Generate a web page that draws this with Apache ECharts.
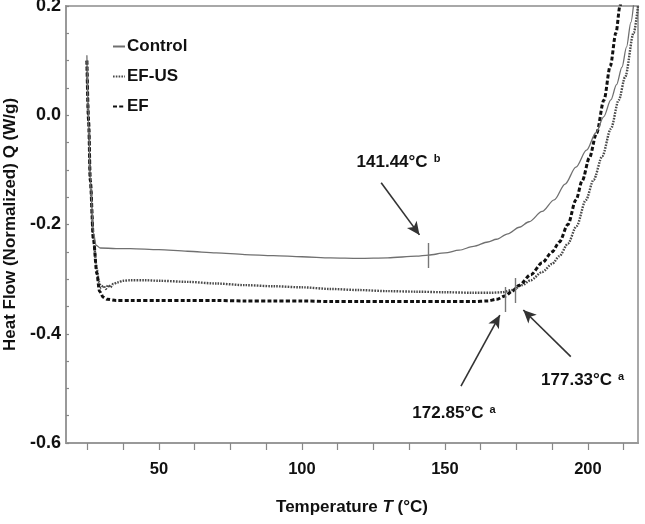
<!DOCTYPE html>
<html>
<head>
<meta charset="utf-8">
<script src="https://cdn.jsdelivr.net/npm/echarts@6/dist/echarts.min.js"></script>
<style>
html,body{margin:0;padding:0;background:#fff;}
#chart{width:645px;height:524px;}
</style>
</head>
<body>
<div id="chart"></div>
<script>
// ---- data ----
const controlT = [24.8, 25.4, 26.0, 27.1, 28.0, 29.5, 35, 40, 50, 60, 70, 80, 90, 100, 110, 120, 130, 140, 144.2, 150, 155, 160, 165, 168, 172, 176, 179.4, 184, 188.2, 192, 195.8, 199.5, 202.8, 205.5, 208, 210, 211.9, 213.5, 215, 216];
const controlQ = [0.11, -0.01, -0.12, -0.215, -0.238, -0.243, -0.244, -0.244, -0.246, -0.249, -0.252, -0.255, -0.257, -0.259, -0.261, -0.262, -0.261, -0.258, -0.256, -0.252, -0.247, -0.24, -0.232, -0.227, -0.217, -0.205, -0.195, -0.176, -0.155, -0.126, -0.095, -0.064, -0.032, -0.003, 0.028, 0.056, 0.088, 0.125, 0.17, 0.205];

const efusT = [24.8, 25.4, 26.0, 27.1, 28.3, 29.0, 29.8, 30.6, 31.4, 32.2, 33.0, 34.0, 35.5, 37.5, 40, 45, 50, 60, 70, 80, 90, 100, 110, 120, 130, 140, 150, 160, 166, 170, 173.5, 177, 180, 184, 187.5, 190, 193, 196, 199.3, 202, 205, 208, 210.8, 213, 216, 217.5];
const efusQ = [0.10, -0.01, -0.12, -0.228, -0.283, -0.305, -0.316, -0.312, -0.318, -0.311, -0.315, -0.309, -0.306, -0.303, -0.302, -0.302, -0.303, -0.305, -0.308, -0.311, -0.313, -0.315, -0.318, -0.32, -0.322, -0.323, -0.324, -0.325, -0.325, -0.324, -0.32, -0.311, -0.302, -0.287, -0.272, -0.258, -0.235, -0.203, -0.155, -0.118, -0.075, -0.025, 0.028, 0.07, 0.151, 0.2];

const efT = [24.8, 25.4, 26.0, 27.1, 28.3, 29.2, 30.5, 32, 35, 40, 50, 60, 70, 80, 90, 100, 110, 120, 130, 140, 150, 160, 165, 168, 171, 173.5, 176, 180, 184, 187.5, 190, 193, 195.8, 198, 200.5, 203, 205.6, 207.8, 209.8, 211.2, 211.7];
const efQ = [0.10, -0.01, -0.12, -0.228, -0.29, -0.322, -0.333, -0.337, -0.339, -0.339, -0.339, -0.339, -0.339, -0.34, -0.34, -0.34, -0.341, -0.341, -0.341, -0.341, -0.341, -0.341, -0.34, -0.337, -0.331, -0.322, -0.311, -0.292, -0.27, -0.25, -0.232, -0.2, -0.155, -0.12, -0.078, -0.033, 0.028, 0.09, 0.151, 0.2, 0.215];

const seriesNames = ['Control', 'EF-US', 'EF'];
const xLabelValues = [50, 100, 150, 200];
const xTickValues = [25, 37.5, 50, 62.5, 75, 87.5, 100, 112.5, 125, 137.5, 150, 162.5, 175, 187.5, 200, 212.5];
const yTickValues = [-0.6, -0.55, -0.5, -0.45, -0.4, -0.35, -0.3, -0.25, -0.2, -0.15, -0.1, -0.05, 0, 0.05, 0.1, 0.15, 0.2];

// annotations in data coordinates
const arrowFrom = [[127.7, -0.1235], [155.6, -0.4957], [194.0, -0.442]];
const arrowTo   = [[141.1, -0.219], [169.2, -0.3657], [177.4, -0.3565]];
const markT     = [144.2, 171.1, 174.6];
const markQlo   = [-0.2796, -0.3602, -0.3437];
const markQhi   = [-0.2339, -0.3144, -0.298];
const noteText  = ['141.44°C', '172.85°C', '177.33°C'];
const noteSup   = ['b', 'a', 'a'];
const notePos   = [[119.1, -0.0856], [138.6, -0.545], [183.6, -0.4847]];

// ---- build ----
const zip = (a, b) => a.map((v, i) => [v, b[i]]);
const FONT = 'Liberation Sans, Arial, sans-serif';

const markLines = [];
arrowFrom.forEach((p, i) => {
  markLines.push([
    { coord: p, symbol: 'none' },
    { coord: arrowTo[i], symbol: 'arrow', symbolSize: [9, 13],
      lineStyle: { color: '#333', width: 1.6, type: 'solid' } }
  ]);
});
markT.forEach((t, i) => {
  markLines.push([
    { coord: [t, markQlo[i]], symbol: 'none' },
    { coord: [t, markQhi[i]], symbol: 'none',
      lineStyle: { color: '#777', width: 1.4, type: 'solid' } }
  ]);
});

const markPoints = notePos.map((p, i) => ({
  coord: p,
  label: { formatter: '{m|' + noteText[i] + '}{s|' + noteSup[i] + '}' }
}));

const chart = echarts.init(document.getElementById('chart'), null, { renderer: 'canvas' });

chart.setOption({
  animation: false,
  backgroundColor: '#fff',
  grid: {
    left: 66, right: 7, top: 6, bottom: 81,
    containLabel: false,
    outerBoundsMode: 'none',
    show: true, borderColor: '#a8a8a8', borderWidth: 2, backgroundColor: 'transparent'
  },
  legend: {
    orient: 'vertical',
    left: 107, top: 33,
    itemWidth: 12, itemHeight: 8, itemGap: 13,
    itemStyle: { opacity: 0 },
    textStyle: { fontFamily: FONT, fontWeight: 'bold', fontSize: 17, color: '#111', padding: [0, 0, 0, -3] },
    data: seriesNames
  },
  xAxis: {
    type: 'value',
    min: 17.5, max: 217.5,
    name: '{n|Temperature }{i|T}{n| (°C)}',
    nameLocation: 'middle',
    nameGap: 56,
    nameTextStyle: {
      rich: {
        n: { fontFamily: FONT, fontWeight: 'bold', fontSize: 17, color: '#111' },
        i: { fontFamily: FONT, fontWeight: 'bold', fontStyle: 'italic', fontSize: 17, color: '#111' }
      }
    },
    axisLine: { show: true, onZero: false, lineStyle: { color: '#999', width: 2 } },
    axisTick: { show: true, inside: false, length: 7, customValues: xTickValues, lineStyle: { color: '#888', width: 1.2 } },
    axisLabel: { customValues: xLabelValues, margin: 18, fontFamily: FONT, fontWeight: 'bold', fontSize: 16.5, color: '#111' },
    splitLine: { show: false }
  },
  yAxis: {
    type: 'value',
    min: -0.6, max: 0.2, interval: 0.2,
    name: 'Heat Flow (Normalized) Q (W/g)',
    nameLocation: 'middle',
    nameGap: 45,
    nameTextStyle: { fontFamily: FONT, fontWeight: 'bold', fontSize: 17, color: '#111' },
    axisLine: { show: true, onZero: false, lineStyle: { color: '#999', width: 2 } },
    axisTick: { show: true, inside: true, length: 3, customValues: yTickValues, lineStyle: { color: '#888', width: 1.2 } },
    axisLabel: {
      margin: 5, fontFamily: FONT, fontWeight: 'bold', fontSize: 18, color: '#111',
      formatter: v => (Math.abs(v) < 1e-9 ? 0 : v).toFixed(1)
    },
    splitLine: { show: false }
  },
  series: [
    {
      name: seriesNames[0], type: 'line', data: zip(controlT, controlQ),
      showSymbol: false, symbol: 'none', smooth: 0.3, smoothMonotone: 'x',
      lineStyle: { color: '#707070', width: 1.3, type: 'solid' },
      itemStyle: { color: '#707070' },
      z: 3,
      markLine: {
        silent: true, animation: false,
        label: { show: false },
        emphasis: { disabled: true },
        data: markLines
      },
      markPoint: {
        silent: true, animation: false,
        symbol: 'circle', symbolSize: 0,
        label: {
          show: true, position: 'right', distance: 0,
          rich: {
            m: { fontFamily: FONT, fontWeight: 'bold', fontSize: 17, color: '#111' },
            s: { fontFamily: FONT, fontWeight: 'bold', fontSize: 11, color: '#111', verticalAlign: 'top', padding: [0, 0, 0, 6] }
          }
        },
        data: markPoints
      }
    },
    {
      name: seriesNames[1], type: 'line', data: zip(efusT, efusQ),
      showSymbol: false, symbol: 'none', smooth: 0.3, smoothMonotone: 'x',
      lineStyle: { color: '#4a4a4a', width: 2.4, type: [1.6, 1.2] },
      itemStyle: { color: '#4a4a4a' },
      z: 2
    },
    {
      name: seriesNames[2], type: 'line', data: zip(efT, efQ),
      showSymbol: false, symbol: 'none', smooth: 0.3, smoothMonotone: 'x',
      lineStyle: { color: '#111', width: 3, type: [4, 2.2] },
      itemStyle: { color: '#111' },
      z: 2
    }
  ]
});
</script>
</body>
</html>
